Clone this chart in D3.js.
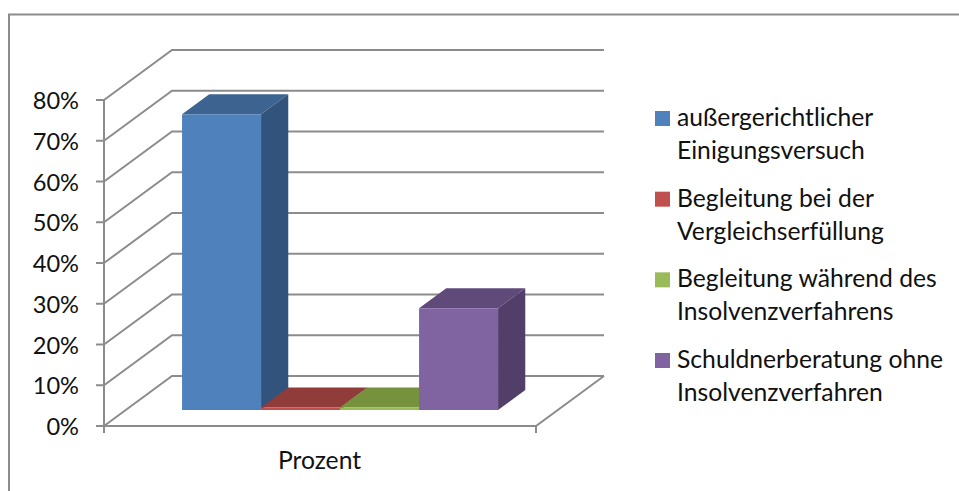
<!DOCTYPE html>
<html>
<head>
<title>Prozent</title>
<meta charset="utf-8" />
<script src="https://d3js.org/d3.v7.min.js" charset="utf-8"></script>
<style>
html, body { margin: 0; padding: 0; background: #fff; }
svg { display: block; }
text { font-family: Lato, "Open Sans", sans-serif; fill: #111; }
</style>
</head>
<body>
<div id="chart"></div>
<script type="text/javascript">
var categories = ["außergerichtlicher Einigungsversuch", "Begleitung bei der Vergleichserfüllung", "Begleitung während des Insolvenzverfahrens", "Schuldnerberatung ohne Insolvenzverfahren"];
var legendLines = [["außergerichtlicher", "Einigungsversuch"], ["Begleitung bei der", "Vergleichserfüllung"], ["Begleitung während des", "Insolvenzverfahrens"], ["Schuldnerberatung ohne", "Insolvenzverfahren"]];
var values = [72.6, 0.6, 0.6, 25];
var tickValues = [0, 10, 20, 30, 40, 50, 60, 70, 80];
var groupLabel = "Prozent";

var front = ["#4f81bd", "#c0504d", "#9bbb59", "#8064a2"];
var top3d = ["#3d6491", "#8f3c3a", "#76923c", "#5f4a7a"];
var side = ["#32547c", "#7c3331", "#64803a", "#523f69"];
var axisColour = "#8c8c8c";

var width = 959, height = 491;
var svg = d3.select("#chart").append("svg").attr("width", width).attr("height", height);

// frame around the chart
svg.append("path").attr("d", "M9,491V14.5H959").attr("fill", "none").attr("stroke", axisColour).attr("stroke-width", 2);

var y = d3.scaleLinear().domain([0, 80]).range([426, 100]);
var x = d3.scaleBand().domain(categories).range([102.3, 534.3]).paddingInner(0).paddingOuter(0.734);
// depth runs from the front of the floor (0) to the back wall (1)
var depthX = d3.scaleLinear().domain([0, 1]).range([0, 68]);
var depthY = d3.scaleLinear().domain([0, 1]).range([0, -50]);
var barFront = 0.32, barBack = 0.72;

function pt(px, v, d) {
  return [px + depthX(d), y(v) + depthY(d)];
}
var line = d3.line();
var grid = svg.append("g").attr("fill", "none").attr("stroke", axisColour).attr("stroke-width", 2);

tickValues.forEach(function(v) {
  // wall diagonal + back gridline
  grid.append("path").attr("d", line([pt(104, v, 0), pt(104, v, 1), pt(536, v, 1)]));
  grid.append("line").attr("x1", 96).attr("x2", 104).attr("y1", y(v)).attr("y2", y(v));
  svg.append("text").attr("x", 79).attr("y", y(v) + 9).attr("text-anchor", "end").attr("font-size", 23.6).text(v + "%");
});

// floor
grid.append("path").attr("d", line([pt(536, 0, 1), pt(536, 0, 0), pt(104, 0, 0)]));
grid.append("line").attr("x1", 104).attr("x2", 104).attr("y1", y(80)).attr("y2", 433);
grid.append("line").attr("x1", 536).attr("x2", 536).attr("y1", y(0)).attr("y2", 433);

// bars, left to right so each one covers the side of the previous
categories.forEach(function(c, i) {
  var x0 = x(c), x1 = x(c) + x.bandwidth(), v = values[i];
  var g = svg.append("g");
  g.append("path").attr("fill", top3d[i]).attr("d", line([pt(x0, v, barFront), pt(x1, v, barFront), pt(x1, v, barBack), pt(x0, v, barBack)]) + "Z");
  g.append("path").attr("fill", side[i]).attr("d", line([pt(x1, 0, barFront), pt(x1, 0, barBack), pt(x1, v, barBack), pt(x1, v, barFront)]) + "Z");
  g.append("path").attr("fill", front[i]).attr("d", line([pt(x0, 0, barFront), pt(x1, 0, barFront), pt(x1, v, barFront), pt(x0, v, barFront)]) + "Z");
});

svg.append("text").attr("x", 319.5).attr("y", 469).attr("text-anchor", "middle").attr("font-size", 24.7).text(groupLabel);

// legend
var legendY = d3.scalePoint().domain(categories).range([111, 353]);
categories.forEach(function(c, i) {
  svg.append("rect").attr("x", 655).attr("y", legendY(c)).attr("width", 15).attr("height", 15).attr("fill", front[i]);
  legendLines[i].forEach(function(t, j) {
    svg.append("text").attr("x", 677).attr("y", legendY(c) + 15 + j * 33).attr("font-size", 24.7).text(t);
  });
});
</script>
</body>
</html>
